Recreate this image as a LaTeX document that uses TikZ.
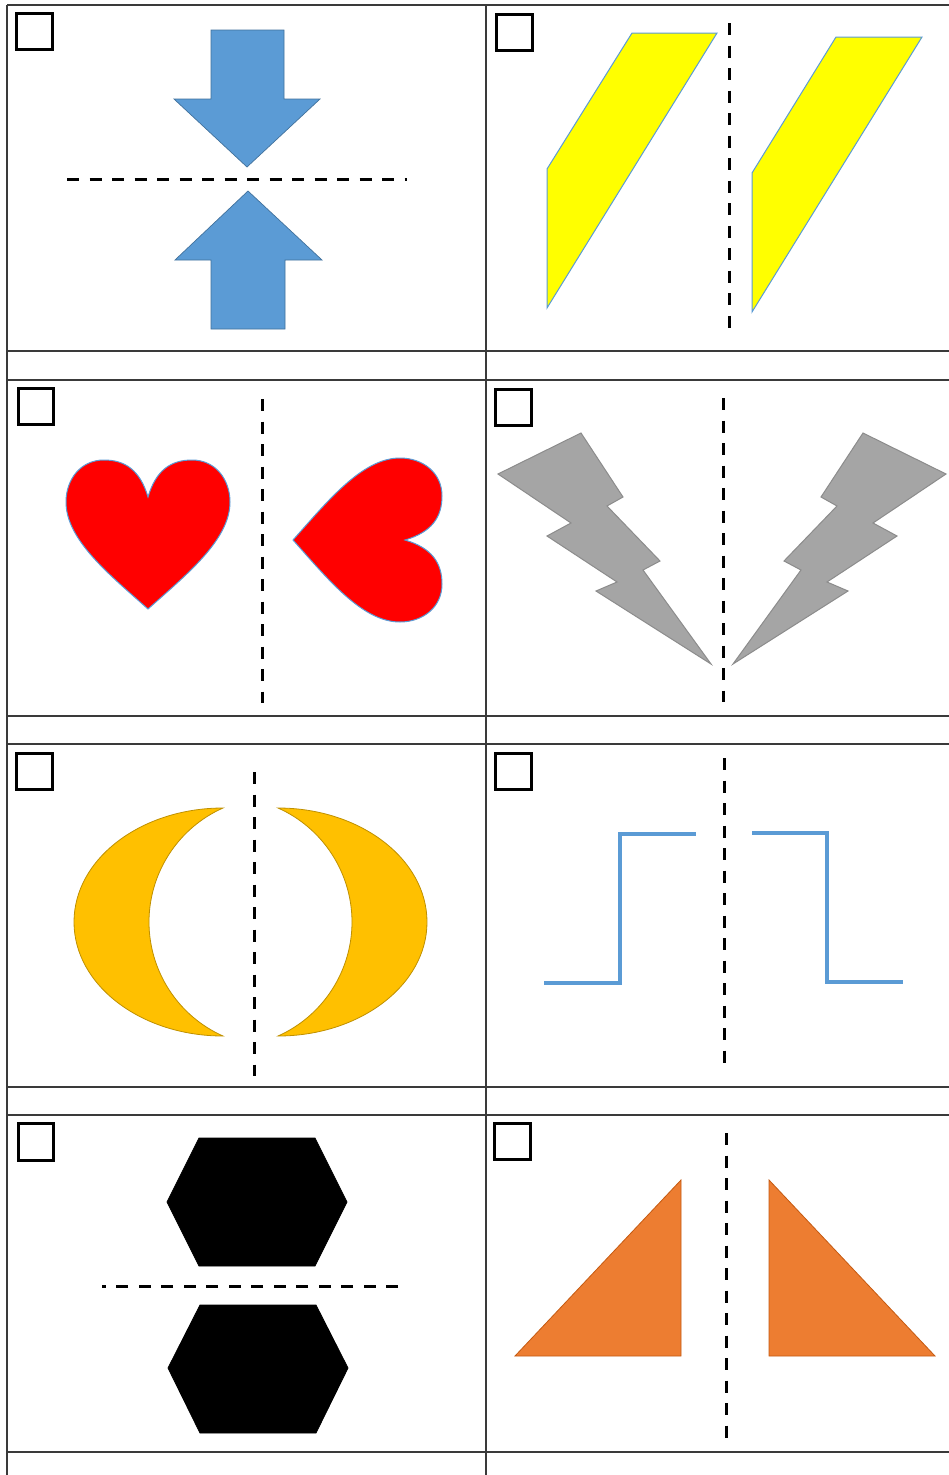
\documentclass[tikz,border=0pt]{standalone}
\definecolor{arrowblue}{HTML}{5B9BD5}
\definecolor{arrowedge}{HTML}{41719C}
\definecolor{yel}{HTML}{FFFF00}
\definecolor{heartred}{HTML}{FF0000}
\definecolor{boltgray}{HTML}{A5A5A5}
\definecolor{boltedge}{HTML}{8C8C8C}
\definecolor{moonfill}{HTML}{FFC000}
\definecolor{moonedge}{HTML}{BF9000}
\definecolor{trifill}{HTML}{ED7D31}
\definecolor{triedge}{HTML}{C55A11}
\definecolor{gridcol}{HTML}{3A3A3A}
\begin{document}
\begin{tikzpicture}[x=1pt,y=-1pt,
  gridline/.style={draw=gridcol,line width=1.6pt},
  checkbox/.style={draw=black,line width=3pt},
  cutline/.style={draw=black,line width=3pt,dash pattern=on 12pt off 10.5pt},
  bluearrow/.style={fill=arrowblue,draw=arrowedge,line width=0.7pt,line join=miter},
  yellowshape/.style={fill=yel,draw=arrowblue,line width=1pt},
  heartshape/.style={fill=heartred,draw=arrowblue,line width=1pt},
  boltshape/.style={fill=boltgray,draw=boltedge,line width=1pt},
  moonshape/.style={fill=moonfill,draw=moonedge,line width=0.8pt},
  stepline/.style={draw=arrowblue,line width=3.5pt},
  hexshape/.style={fill=black,draw=black,line width=0.8pt},
  trishape/.style={fill=trifill,draw=triedge,line width=0.8pt}]
\useasboundingbox (0,0) rectangle (949,1475);
\fill[white] (0,0) rectangle (949,1475);

% grid
\foreach \yy in {5,351,380,716,744,1087,1115,1452}
  \draw[gridline] (7,\yy) -- (949,\yy);
\draw[gridline] (7,5) -- (7,1475);
\draw[gridline] (486,5) -- (486,1475);

% checkboxes
\draw[checkbox] (16,13) rectangle (52,49);
\draw[checkbox] (496,14) rectangle (532,50);
\draw[checkbox] (18,388) rectangle (53,424);
\draw[checkbox] (495,389) rectangle (531,425);
\draw[checkbox] (16,753) rectangle (52,789);
\draw[checkbox] (495,753) rectangle (531,789);
\draw[checkbox] (18,1123) rectangle (53,1160);
\draw[checkbox] (494,1123) rectangle (530,1159);

% row 1 left: arrows
\draw[bluearrow] (211,30) -- (284,30) -- (284,99) -- (320,99) -- (247,167) -- (174,99) -- (211,99) -- cycle;
\draw[bluearrow] (248,191) -- (322,260) -- (285,260) -- (285,329) -- (211,329) -- (211,260) -- (175,260) -- cycle;
\draw[cutline] (67,179) -- (407,179);

% row 1 right: parallelograms
\draw[yellowshape] (632,33) -- (717,33) -- (547,308) -- (547,169) -- cycle;
\draw[yellowshape] (836,37) -- (922,37) -- (752,312) -- (752,173) -- cycle;
\draw[cutline] (729,23) -- (729,328);

% row 2 left: hearts
\draw[heartshape] (148,497) .. controls (140,470) and (125,460) .. (104,460)
  .. controls (80,460) and (66,480) .. (66,502)
  .. controls (66,540) and (110,575) .. (148,609)
  .. controls (186,575) and (230,540) .. (230,502)
  .. controls (230,480) and (216,460) .. (192,460)
  .. controls (171,460) and (156,470) .. (148,497) -- cycle;
\draw[heartshape] (405,540) .. controls (432,532) and (442,517) .. (442,496)
  .. controls (442,472) and (422,458) .. (400,458)
  .. controls (362,458) and (327,502) .. (293,540)
  .. controls (327,578) and (362,622) .. (400,622)
  .. controls (422,622) and (442,608) .. (442,584)
  .. controls (442,563) and (432,548) .. (405,540) -- cycle;
\draw[cutline] (262,399) -- (262,703);

% row 2 right: lightning bolts
\draw[boltshape] (581,433) -- (623,497) -- (607,506) -- (660,561) -- (643,570) -- (711,664)
  -- (596,591) -- (617,582) -- (547,536) -- (571,523) -- (498,474) -- cycle;
\draw[boltshape] (863,433) -- (821,497) -- (837,506) -- (784,561) -- (801,570) -- (733,664)
  -- (848,591) -- (827,582) -- (897,536) -- (873,523) -- (946,474) -- cycle;
\draw[cutline] (723,398) -- (723,702);

% row 3 left: moons
\draw[moonshape] (223,808) .. controls (141,808) and (74,859) .. (74,922)
  .. controls (74,985) and (141,1036) .. (223,1036)
  .. controls (178,1016) and (149,971) .. (149,922)
  .. controls (149,873) and (178,828) .. (223,808) -- cycle;
\draw[moonshape] (278,808) .. controls (360,808) and (427,859) .. (427,922)
  .. controls (427,985) and (360,1036) .. (278,1036)
  .. controls (323,1016) and (352,971) .. (352,922)
  .. controls (352,873) and (323,828) .. (278,808) -- cycle;
\draw[cutline] (254,772) -- (254,1076);

% row 3 right: steps
\draw[stepline] (544,983) -- (620,983) -- (620,834) -- (696,834);
\draw[stepline] (752,833) -- (827,833) -- (827,982) -- (903,982);
\draw[cutline] (724,758) -- (724,1063);

% row 4 left: hexagons
\draw[hexshape] (199,1138) -- (315,1138) -- (347,1202) -- (315,1266) -- (199,1266) -- (167,1202) -- cycle;
\draw[hexshape] (200,1305) -- (316,1305) -- (348,1368) -- (316,1433) -- (200,1433) -- (168,1368) -- cycle;
\draw[cutline] (398,1286) -- (102,1286);

% row 4 right: triangles
\draw[trishape] (515,1356) -- (681,1180) -- (681,1356) -- cycle;
\draw[trishape] (769,1180) -- (769,1356) -- (935,1356) -- cycle;
\draw[cutline] (726,1133) -- (726,1438);
\end{tikzpicture}
\end{document}
